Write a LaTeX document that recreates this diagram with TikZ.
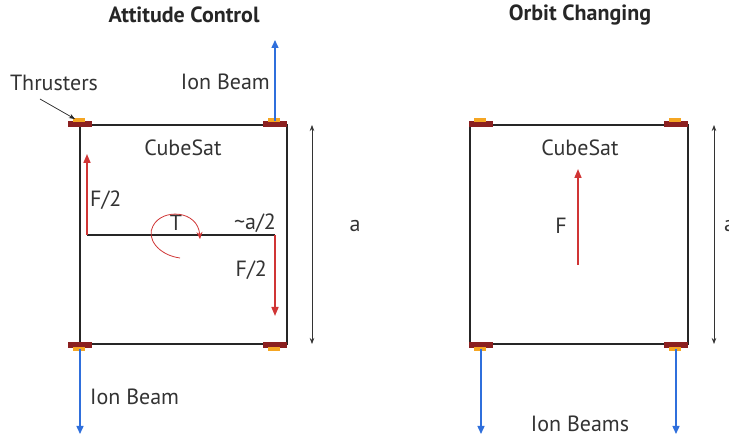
\documentclass[tikz,border=0pt]{standalone}
\usepackage{fontspec}
\setmainfont{PT Sans}
\usetikzlibrary{arrows.meta}

\definecolor{beamblue}{HTML}{2F6FDC}
\definecolor{forcered}{HTML}{D03535}
\definecolor{thrusterred}{HTML}{8B2020}
\definecolor{thrusterorange}{HTML}{F5A623}

\begin{document}
\begin{tikzpicture}[x=1pt, y=-1pt, >=Stealth,
    lbl/.style={inner sep=1pt, font=\fontsize{22}{26}\selectfont, text=black!80},
    title/.style={inner sep=1pt, font=\fontsize{22}{26}\selectfont\bfseries, text=black!85},
    sat/.style={draw=black!85, line width=1.8pt},
    beam/.style={draw=beamblue, line width=1.4pt, -{Triangle[length=8pt, width=7pt]}},
    force/.style={draw=forcered, line width=1.6pt, -{Triangle[length=9pt, width=7pt]}},
    dim/.style={draw=black!80, line width=0.7pt, {Stealth[length=6pt]}-{Stealth[length=6pt]}}]

    \useasboundingbox (0,0) rectangle (729,438);

    % Titles
    \node[title] (titleA) at (184,15) {Attitude Control};
    \node[title] (titleB) at (580,15) {Orbit Changing};

    % Satellite bodies
    \draw[sat] (80,125) rectangle (287,344);
    \draw[sat] (470,125) rectangle (688,344);
    \node[lbl] (satA) at (183,148) {CubeSat};
    \node[lbl] (satB) at (580,148) {CubeSat};

    % Thrusters (top row, bump above)
    \foreach \x in {80, 275, 481, 676} {
        \fill[thrusterred] (\x-12,121) rectangle (\x+12,127);
        \fill[thrusterorange] (\x-7,118.5) rectangle (\x+5,122);
    }
    % Thrusters (bottom row, bump below)
    \foreach \x in {80, 275, 481, 676} {
        \fill[thrusterred] (\x-12,342) rectangle (\x+12,348);
        \fill[thrusterorange] (\x-7,347) rectangle (\x+5,351);
    }

    \node[lbl] (thrusters) at (54,83) {Thrusters};
    \coordinate (thrA) at (75,119);
    \draw[->, black!85, line width=0.7pt] (40,99) -- (thrA);

    % Ion beams, attitude control
    \coordinate (nozA1) at (275,121);
    \coordinate (tipA1) at (275,40);
    \draw[beam] (nozA1) -- (tipA1);
    \node[lbl, anchor=east] (beamA1) at (271,82) {Ion Beam};

    \coordinate (nozA2) at (80,349);
    \coordinate (tipA2) at (80,434);
    \draw[beam] (nozA2) -- (tipA2);
    \node[lbl, anchor=west] (beamA2) at (89,397) {Ion Beam};

    % Forces and lever arm
    \coordinate (leverL) at (87,235);
    \coordinate (leverR) at (275,235);
    \coordinate (forceUp) at (87,154);
    \coordinate (forceDn) at (275,316);
    \draw[black!85, line width=1.6pt] (leverL) -- (leverR);
    \draw[force] (leverL) -- (forceUp);
    \draw[force] (leverR) -- (forceDn);
    \node[lbl, anchor=west] (fA1) at (89,200) {F/2};
    \node[lbl, anchor=east] (fA2) at (268,270) {F/2};
    \node[lbl] (torque) at (176,223) {T};
    \node[lbl] (arm) at (255,223) {\textasciitilde a/2};

    % Torque
    \coordinate (torqueS) at (180,258);
    \coordinate (torqueE) at (200,239);
    \draw[forcered, line width=0.8pt, -{Stealth[length=7pt, width=6pt]}]
        (torqueS) .. controls (158,255) and (146,238) .. (153,226)
        .. controls (162,208) and (198,210) .. (torqueE);

    % Side a, attitude control
    \coordinate (dimAt) at (312,125);
    \coordinate (dimAb) at (312,344);
    \draw[dim] (dimAt) -- (dimAb);
    \node[lbl] (sideA) at (355,226) {a};

    % Ion beams, orbit changing
    \coordinate (nozB1) at (481,349);
    \coordinate (tipB1) at (481,434);
    \coordinate (nozB2) at (676,349);
    \coordinate (tipB2) at (676,434);
    \draw[beam] (nozB1) -- (tipB1);
    \draw[beam] (nozB2) -- (tipB2);
    \node[lbl] (beamsB) at (580,424) {Ion Beams};

    % Force, orbit changing
    \coordinate (forceB0) at (578,265);
    \coordinate (forceB1) at (578,169);
    \draw[force] (forceB0) -- (forceB1);
    \node[lbl] (fB) at (561,226) {F};

    % Side a, orbit changing (cut by the edge, as drawn)
    \coordinate (dimBt) at (714,125);
    \coordinate (dimBb) at (714,344);
    \draw[dim] (dimBt) -- (dimBb);
    \node[lbl, anchor=west] (sideB) at (723,226) {a};

\end{tikzpicture}
\end{document}
